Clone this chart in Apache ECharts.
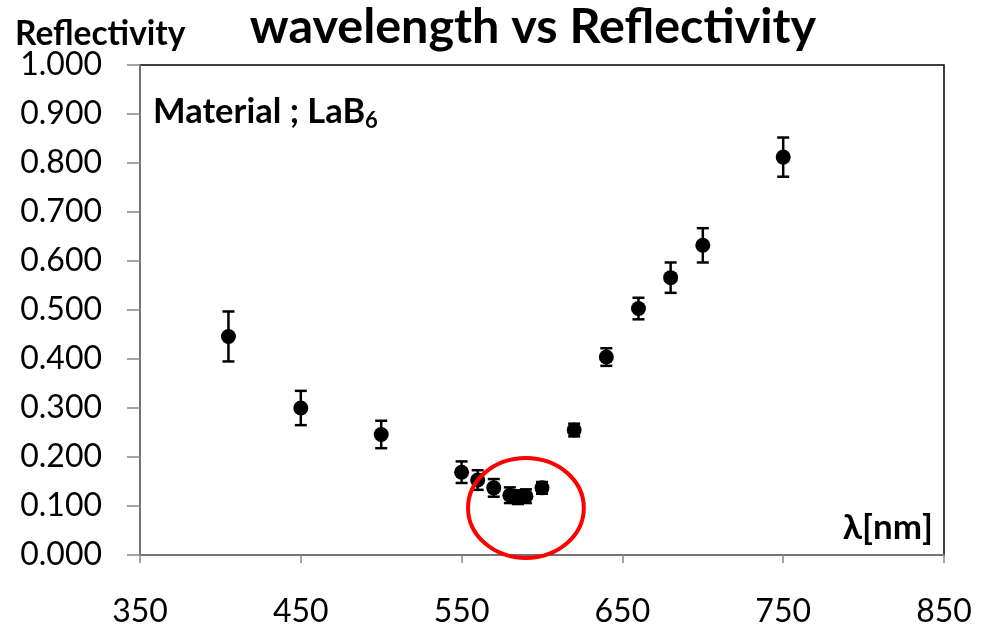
<!DOCTYPE html>
<html>
<head>
<meta charset="utf-8">
<title>wavelength vs Reflectivity</title>
<script src="https://cdn.jsdelivr.net/npm/echarts@6/dist/echarts.min.js"></script>
<style>
  html, body { margin: 0; padding: 0; background: #fff; }
  #chart { width: 991px; height: 630px; }
</style>
</head>
<body>
<div id="chart"></div>
<script>
// Measured reflectivity of LaB6 versus wavelength
const wavelengths = [405, 450, 500, 550, 560, 570, 580, 585, 590, 600, 620, 640, 660, 680, 700, 750];
const reflectivity = [0.446, 0.300, 0.246, 0.169, 0.153, 0.137, 0.122, 0.118, 0.120, 0.137, 0.255, 0.404, 0.503, 0.566, 0.632, 0.812];
const errors = [0.051, 0.035, 0.028, 0.022, 0.020, 0.018, 0.016, 0.014, 0.014, 0.012, 0.013, 0.018, 0.022, 0.031, 0.035, 0.040];

const xTicks = { min: 350, max: 850, interval: 100 };
const yTicks = { min: 0, max: 1, interval: 0.1 };

// Highlighted region around the reflectivity minimum: [centre λ, centre R, half-width λ, half-height R]
const highlight = [[590, 0.096, 36, 0.102]];

const FONT = 'Lato';

const points = wavelengths.map((w, i) => [w, reflectivity[i]]);
const errData = wavelengths.map((w, i) => [w, reflectivity[i], errors[i]]);

const chart = echarts.init(document.getElementById('chart'), null, { renderer: 'canvas' });

chart.setOption({
  animation: false,
  backgroundColor: '#ffffff',
  textStyle: { fontFamily: FONT },
  title: {
    text: 'wavelength vs Reflectivity',
    left: 528,
    top: -2,
    textAlign: 'center',
    textStyle: { fontFamily: FONT, fontWeight: 'bold', fontSize: 48.5, color: '#000' }
  },
  grid: {
    left: 140, right: 47, top: 65, bottom: 75,
    show: true, borderColor: '#000', borderWidth: 1.5, backgroundColor: 'transparent'
  },
  xAxis: {
    type: 'value',
    min: xTicks.min, max: xTicks.max, interval: xTicks.interval,
    name: 'λ[nm]',
    nameLocation: 'end',
    nameGap: 0,
    nameTextStyle: {
      fontFamily: FONT, fontWeight: 'bold', fontSize: 35, color: '#000',
      align: 'right', verticalAlign: 'bottom', padding: [0, 11, 10, 0]
    },
    axisLine: { show: true, onZero: false, lineStyle: { color: '#868686', width: 1.5 } },
    axisTick: { show: true, inside: false, length: 8, lineStyle: { color: '#868686', width: 1.5 } },
    axisLabel: { margin: 41, fontFamily: FONT, fontSize: 32, color: '#000' },
    splitLine: { show: false }
  },
  yAxis: {
    type: 'value',
    min: yTicks.min, max: yTicks.max, interval: yTicks.interval,
    axisLine: { show: true, onZero: false, lineStyle: { color: '#868686', width: 1.5 } },
    axisTick: { show: true, inside: false, length: 13, lineStyle: { color: '#868686', width: 1.5 } },
    axisLabel: {
      margin: 38, fontFamily: FONT, fontSize: 32, color: '#000',
      formatter: v => v.toFixed(3)
    },
    splitLine: { show: false }
  },
  graphic: [
    {
      type: 'text', left: 15, top: 17,
      style: { text: 'Reflectivity', fontFamily: FONT, fontWeight: 'bold', fontSize: 33.5, fill: '#000' }
    },
    {
      type: 'text', left: 153, top: 94,
      style: {
        text: '{m|Material ; LaB}{s|6}',
        rich: {
          m: { fontFamily: FONT, fontWeight: 'bold', fontSize: 34.5, color: '#000' },
          s: { fontFamily: FONT, fontWeight: 'bold', fontSize: 22, color: '#000', padding: [18, 0, 0, 0] }
        }
      }
    }
  ],
  series: [
    {
      type: 'custom',
      name: 'error',
      data: errData,
      z: 2,
      renderItem: (params, api) => {
        const x = api.value(0), y = api.value(1), e = api.value(2);
        const top = api.coord([x, y + e]);
        const bot = api.coord([x, y - e]);
        const cap = 6;
        const st = { stroke: '#000', lineWidth: 2.5 };
        return {
          type: 'group',
          children: [
            { type: 'line', shape: { x1: top[0], y1: top[1], x2: bot[0], y2: bot[1] }, style: st },
            { type: 'line', shape: { x1: top[0] - cap, y1: top[1], x2: top[0] + cap, y2: top[1] }, style: st },
            { type: 'line', shape: { x1: bot[0] - cap, y1: bot[1], x2: bot[0] + cap, y2: bot[1] }, style: st }
          ]
        };
      }
    },
    {
      type: 'scatter',
      name: 'Reflectivity',
      data: points,
      symbol: 'circle',
      symbolSize: 15,
      itemStyle: { color: '#000', opacity: 1 },
      z: 3
    },
    {
      type: 'custom',
      name: 'highlight',
      data: highlight,
      z: 4,
      clip: false,
      renderItem: (params, api) => {
        const c = api.coord([api.value(0), api.value(1)]);
        const s = api.size([api.value(2), api.value(3)]);
        return {
          type: 'ellipse',
          shape: { cx: c[0], cy: c[1], rx: s[0], ry: s[1] },
          style: { fill: 'none', stroke: '#ff0000', lineWidth: 4 }
        };
      }
    }
  ]
});
</script>
</body>
</html>
